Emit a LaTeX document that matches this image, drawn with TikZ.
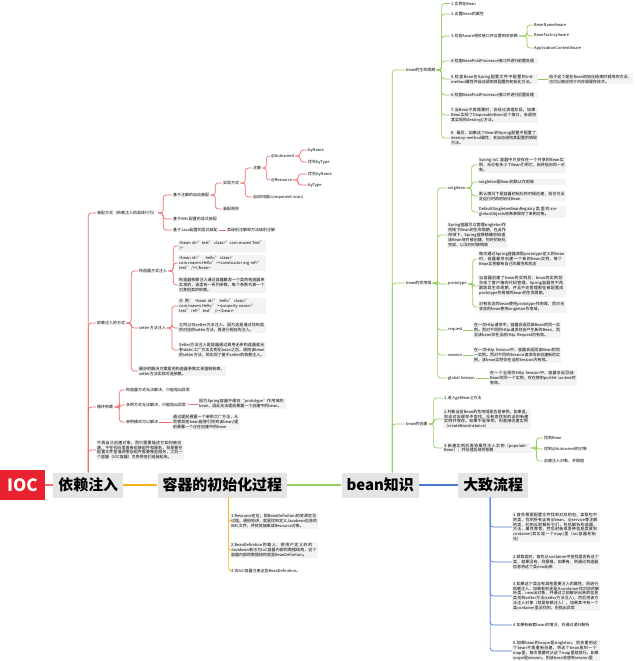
\documentclass[tikz,border=0pt]{standalone}
\usepackage{fontspec}
\setmainfont{Noto Sans CJK SC}
\usetikzlibrary{positioning}
\XeTeXlinebreaklocale "zh"
\XeTeXlinebreakskip=0pt plus 1pt

\definecolor{iocred}{HTML}{E8222E}
\definecolor{branchred}{HTML}{F26A6A}
\definecolor{branchorange}{HTML}{F5B31C}
\definecolor{branchgreen}{HTML}{92CB5E}
\definecolor{branchblue}{HTML}{4A7BD0}
\definecolor{topicgray}{HTML}{E4E4E4}
\definecolor{notegray}{HTML}{F3F3F3}

\begin{document}
\begin{tikzpicture}[x=1bp,y=-1bp,
  topic/.style={fill=topicgray,font=\fontsize{15}{18}\selectfont\bfseries,inner xsep=5bp,inner ysep=0bp,minimum height=25bp},
  sub/.style={anchor=west,font=\fontsize{4}{5}\selectfont,inner sep=1bp},
  note/.style={sub,fill=notegray,align=left,text width=#1},
  note/.default=86bp,
  redline/.style={draw=branchred,line width=0.7bp,rounded corners=3bp},
  orangeline/.style={draw=branchorange,line width=0.7bp,rounded corners=3bp},
  greenline/.style={draw=branchgreen,line width=0.7bp,rounded corners=3bp},
  blueline/.style={draw=branchblue,line width=0.7bp,rounded corners=3bp}]
\useasboundingbox (0,0) rectangle (636,661);
\clip (0,0) rectangle (636,661);

% main row
\node[fill=iocred,text=white,font=\fontsize{17}{20}\selectfont\bfseries,minimum width=45bp,minimum height=30bp] (ioc) at (22.5,485) {IOC};
\node[topic,right=8bp of ioc] (dep) {依赖注入};
\node[topic,right=34bp of dep] (init) {容器的初始化过程};
\node[topic,right=54bp of init] (bk) {bean知识};
\node[topic,right=39bp of bk] (flow) {大致流程};

\draw[redline,line width=1.2bp] (ioc) -- (dep);
\draw[orangeline,line width=1.2bp] (dep) -- (init);
\draw[greenline,line width=1.2bp] (init) -- (bk);
\draw[blueline,line width=1.2bp] (bk) -- (flow);

% ---- 依赖注入
\node[sub] (wire) at (96,213) {装配方式（依赖注入的具体行为）};
\node[sub] (annot) at (172,195) {基于注解的自动装配};
\node[sub] (impl) at (222,183) {实现方式};
\node[sub] (anno) at (252,168) {注解};
\node[sub] (autow) at (270,156) {@Autowired};
\node[sub] (aname) at (307,150) {byName};
\node[sub] (atype) at (307,162) {优先byType};
\node[sub] (resrc) at (270,180) {@Resource};
\node[sub] (rname) at (307,174) {优先byName};
\node[sub] (rtype) at (307,185) {byType};
\node[sub] (scan) at (252,197) {自动扫描(component-scan)};
\node[sub] (rule) at (222,209) {装配原则};
\node[sub] (xmlw) at (172,219) {基于XML配置的显式装配};
\node[sub] (javaw) at (172,230) {基于Java配置的显式装配};
\node[sub] (javan) at (226,230) {类级别注解和方法级别注解};

\node[sub] (way) at (96,323) {依赖注入的方式};
\node[sub] (ctor) at (138,271) {构造器方式注入};
\node[note] (ctor1) at (178,246) {<bean id="test" class="com.maven.Test" />};
\node[note] (ctor2) at (178,263) {<bean id="hello" class="com.maven.Hello"><constructor-arg ref="test" /></bean>};
\node[note] (ctor3) at (178,285) {构造器依赖注入通过容器触发一个类的构造器来实现的，该类有一系列参数，每个参数代表一个对其他类的依赖。};
\node[sub] (setr) at (138,328) {setter方法注入};
\node[note] (setr1) at (178,306) {示例：<bean id="hello" class="com.maven.Hello"><property name="test" ref="test" /></bean>};
\node[note] (setr2) at (178,328) {之所以叫setter方法注入，因为这是通过找到类的对应的setter方法，再进行相应的注入。};
\node[note] (setr3) at (178,350) {Setter方法注入是容器通过调用无参构造器或无参static工厂方法实例化bean之后，调用该bean的setter方法，即实现了基于setter的依赖注入。};
\node[note] (best) at (138,371) {最好的解决方案是用构造器参数实现强制依赖，setter方法实现可选依赖。};

\node[sub] (cyc) at (96,407) {循环依赖};
\node[sub] (cyc1) at (125,390) {构造器方式无法解决，只能抛出异常};
\node[sub] (cyc2) at (125,405) {多例方式无法解决，只能抛出异常};
\node[note] (cyc2n) at (198,404) {因为Spring容器不缓存“prototype”作用域的bean，因此无法提前暴露一个创建中的bean。};
\node[sub] (cyc3) at (125,422) {单例模式可以解决};
\node[note=66bp] (cyc3n) at (172,422) {通过提前暴露一个单例工厂方法，从而使其他bean能够引用到该bean/提前暴露一个正在创建中的bean};
\node[note] (idea) at (96,450) {不再自己创建对象，而只需要描述它如何被创建，不在代码里直接组装组件和服务，但是要在配置文件里描述哪些组件需要哪些服务，之后一个容器（IOC容器）负责把他们组装起来。};

\draw[redline] (dep.north) |- (wire.west);
\draw[redline] (dep.north) |- (way.west);
\draw[redline] (dep.north) |- (cyc.west);
\draw[redline] (dep.north) |- (idea.west);
\draw[redline] (wire.east) -- ++(5,0) |- (annot.west);
\draw[redline] (wire.east) -- ++(5,0) |- (xmlw.west);
\draw[redline] (wire.east) -- ++(5,0) |- (javaw.west);
\draw[redline] (annot.east) -- ++(5,0) |- (impl.west);
\draw[redline] (annot.east) -- ++(5,0) |- (rule.west);
\draw[redline] (impl.east) -- ++(5,0) |- (anno.west);
\draw[redline] (impl.east) -- ++(5,0) |- (scan.west);
\draw[redline] (anno.east) -- ++(4,0) |- (autow.west);
\draw[redline] (anno.east) -- ++(4,0) |- (resrc.west);
\draw[redline] (autow.east) -- ++(5,0) |- (aname.west);
\draw[redline] (autow.east) -- ++(5,0) |- (atype.west);
\draw[redline] (resrc.east) -- ++(5,0) |- (rname.west);
\draw[redline] (resrc.east) -- ++(5,0) |- (rtype.west);
\draw[redline] (javaw) -- (javan);
\draw[redline] (way.east) -- ++(5,0) |- (ctor.west);
\draw[redline] (way.east) -- ++(5,0) |- (setr.west);
\draw[redline] (way.east) -- ++(5,0) |- (best.west);
\draw[redline] (ctor.east) -- ++(5,0) |- (ctor1.west);
\draw[redline] (ctor.east) -- ++(5,0) |- (ctor2.west);
\draw[redline] (ctor.east) -- ++(5,0) |- (ctor3.west);
\draw[redline] (setr.east) -- ++(5,0) |- (setr1.west);
\draw[redline] (setr.east) -- ++(5,0) |- (setr2.west);
\draw[redline] (setr.east) -- ++(5,0) |- (setr3.west);
\draw[redline] (cyc.east) -- ++(5,0) |- (cyc1.west);
\draw[redline] (cyc.east) -- ++(5,0) |- (cyc2.west);
\draw[redline] (cyc.east) -- ++(5,0) |- (cyc3.west);
\draw[redline] (cyc2) -- (cyc2n);
\draw[redline] (cyc3) -- (cyc3n);

% ---- 容器的初始化过程
\node[note] (res) at (230,521) {1.Resource定位，即BeanDefinition的资源定位过程。通俗地讲，就是找到定义Javabean信息的XML文件，并将其抽象成Resource对象。};
\node[note] (load) at (230,550) {2.BeanDefinition的载入，把用户定义好的Javabean表示为IoC容器内部的数据结构，这个容器内部的数据结构就是BeanDefinition。};
\node[sub] (reg) at (230,571) {3.向IoC容器注册这些BeanDefinition。};

\draw[orangeline] ([xshift=6bp]init.south) |- (res.west);
\draw[orangeline] ([xshift=6bp]init.south) |- (load.west);
\draw[orangeline] ([xshift=6bp]init.south) |- (reg.west);

% ---- bean知识
\node[sub] (life) at (405,70) {bean的生命周期};
\node[sub] (l1) at (450,3.5) {1.实例化Bean};
\node[sub] (l2) at (450,14) {2.设置Bean的属性};
\node[sub] (l3) at (450,36) {3.检查Aware相关接口并设置相关依赖};
\node[sub] (aw1) at (533,25) {BeanNameAware};
\node[sub] (aw2) at (533,36) {BeanFactoryAware};
\node[sub] (aw3) at (533,48) {ApplicationContextAware};
\node[note] (l4) at (450,61) {4.检查BeanPostProcessor接口并进行前置处理};
\node[note] (l5) at (450,79) {5.检查Bean在Spring配置文件中配置的init-method属性并自动调用其配置的初始化方法。};
\node[note=83bp] (l5n) at (548,79) {由于这个是在Bean初始化结束时调用的方法，也可以被应用于内存或缓存技术。};
\node[note] (l6) at (450,95) {6.检查BeanPostProcessor接口并进行后置处理};
\node[note] (l7) at (450,115) {7.当Bean不再需要时，会经过清理阶段，如果Bean实现了DisposableBean这个接口，会调用其实现的destroy()方法。};
\node[note] (l8) at (450,138) {8. 最后，如果这个Bean的Spring配置中配置了destroy-method属性，会自动调用其配置的销毁方法。};

\node[sub] (scope) at (405,283) {bean的作用域};
\node[sub] (sgl) at (447,188) {singleton};
\node[note] (sgl1) at (478,165) {Spring IoC 容器中只会存在一个共享的Bean实例，无论有多少个Bean引用它，始终指向同一对象。};
\node[note] (sgl2) at (478,182) {singleton是Bean的默认作用域};
\node[note] (sgl3) at (478,196) {默认情况下是容器初始化的时候创建，但也可设定运行时再初始化Bean};
\node[note] (sgl4) at (478,212) {DefaultSingletonBeanRegistry类里的singletonObjects哈希表保存了单例对象。};
\node[note=58bp] (sglm) at (447,235) {Spring容器可以管理singleton作用域下Bean的生命周期，在此作用域下，Spring能够精确地知道该Bean何时被创建，何时初始化完成，以及何时被销毁};
\node[sub] (proto) at (447,284) {prototype};
\node[note] (pro1) at (478,259) {每次通过Spring容器获取prototype定义的bean时，容器都将创建一个新的Bean实例，每个Bean实例都有自己的属性和状态};
\node[note] (pro2) at (478,286) {当容器创建了bean的实例后，bean的实例就交给了客户端的代码管理，Spring容器将不再跟踪其生命周期，并且不会管理那些被配置成prototype作用域的bean的生命周期。};
\node[note] (pro3) at (478,307) {对有状态的bean使用prototype作用域，而对无状态的bean使用singleton作用域。};
\node[sub] (req) at (447,330) {request};
\node[note] (reqn) at (473,330) {在一次Http请求中，容器会返回该Bean的同一实例。而对不同的Http请求则会产生新的Bean，而且该bean仅在当前Http Request内有效。};
\node[sub] (sess) at (447,355) {session};
\node[note] (sessn) at (473,355) {在一次Http Session中，容器会返回该Bean的同一实例。而对不同的Session请求则会创建新的实例，该bean实例仅在当前Session内有效。};
\node[sub] (gsess) at (447,378) {global Session};
\node[note] (gsessn) at (489,378) {在一个全局的Http Session中，容器会返回该Bean的同一个实例，仅在使用portlet context时有效。};

\node[sub] (make) at (405,424) {bean的创建};
\node[sub] (mk1) at (443,398) {1.进入getBean()方法};
\node[note] (mk2) at (443,419) {2.判断当前Bean的作用域是否是单例，如果是，则去对应缓存中查找，没有查找到的话则新建实例并保存。如果不是单例，则直接创建实例（createBeanInstance）};
\node[note] (mk3) at (443,448) {3.新建实例后再将属性注入实例（populateBean），并处理后续的依赖};
\node[sub] (mk3a) at (543,438) {找到Bean};
\node[sub] (mk3b) at (543,449) {找到@Autowired的对象};
\node[sub] (mk3c) at (543,461) {创建注入对象，并赋值};

\draw[greenline] ([xshift=12bp]bk.north) |- (life.west);
\draw[greenline] ([xshift=12bp]bk.north) |- (scope.west);
\draw[greenline] ([xshift=12bp]bk.north) |- (make.west);
\draw[greenline] (life.east) -- ++(5,0) |- (l1.west);
\draw[greenline] (life.east) -- ++(5,0) |- (l2.west);
\draw[greenline] (life.east) -- ++(5,0) |- (l3.west);
\draw[greenline] (life.east) -- ++(5,0) |- (l4.west);
\draw[greenline] (life.east) -- ++(5,0) |- (l5.west);
\draw[greenline] (life.east) -- ++(5,0) |- (l6.west);
\draw[greenline] (life.east) -- ++(5,0) |- (l7.west);
\draw[greenline] (life.east) -- ++(5,0) |- (l8.west);
\draw[greenline] (l3.east) -- ++(8,0) |- (aw1.west);
\draw[greenline] (l3.east) -- ++(8,0) |- (aw2.west);
\draw[greenline] (l3.east) -- ++(8,0) |- (aw3.west);
\draw[greenline] (l5) -- (l5n);
\draw[greenline] (scope.east) -- ++(5,0) |- (sgl.west);
\draw[greenline] (scope.east) -- ++(5,0) |- (sglm.west);
\draw[greenline] (scope.east) -- ++(5,0) |- (proto.west);
\draw[greenline] (scope.east) -- ++(5,0) |- (req.west);
\draw[greenline] (scope.east) -- ++(5,0) |- (sess.west);
\draw[greenline] (scope.east) -- ++(5,0) |- (gsess.west);
\draw[greenline] (sgl.east) -- ++(5,0) |- (sgl1.west);
\draw[greenline] (sgl.east) -- ++(5,0) |- (sgl2.west);
\draw[greenline] (sgl.east) -- ++(5,0) |- (sgl3.west);
\draw[greenline] (sgl.east) -- ++(5,0) |- (sgl4.west);
\draw[greenline] (proto.east) -- ++(5,0) |- (pro1.west);
\draw[greenline] (proto.east) -- ++(5,0) |- (pro2.west);
\draw[greenline] (proto.east) -- ++(5,0) |- (pro3.west);
\draw[greenline] (req) -- (reqn);
\draw[greenline] (sess) -- (sessn);
\draw[greenline] (gsess) -- (gsessn);
\draw[greenline] (make.east) -- ++(5,0) |- (mk1.west);
\draw[greenline] (make.east) -- ++(5,0) |- (mk2.west);
\draw[greenline] (make.east) -- ++(5,0) |- (mk3.west);
\draw[greenline] (mk3.east) -- ++(5,0) |- (mk3a.west);
\draw[greenline] (mk3.east) -- ++(5,0) |- (mk3b.west);
\draw[greenline] (mk3.east) -- ++(5,0) |- (mk3c.west);

% ---- 大致流程
\node[note] (f1) at (512,527) {1.首先根据配置文件找到对应的包，读取包中的类，找到所有含有@bean，@service等注解的类，利用反射解析它们，包括解析构造器，方法，属性等等，然后封装成各种信息类放到container(其实是一个map)里（ioc容器初始化）};
\node[note] (f2) at (512,562) {2.获取类时，首先从container中查找是否有这个类，如果没有，则报错，如果有，则通过构造器信息将这个类new出来};
\node[note] (f3) at (512,596) {3.如果这个类含有其他需要注入的属性，则进行依赖注入，如果有则还是从container找对应的解析类，new出对象，并通过之前解析出来的信息类找到setter方法(setter方法注入)，然后用该方法注入对象（就是依赖注入），如果其中有一个类container里没找到，则抛出异常};
\node[sub] (f4) at (512,625) {4.如果有嵌套bean的情况，则通过递归解析};
\node[note] (f5) at (512,651) {5.如果bean的scope是singleton，则会重用这个bean不再重新创建，将这个bean放到一个map里，每次需要时从这个map里取就行。如果scope是session，则该bean会放到session里};

\draw[blueline] ([xshift=-3bp]flow.south) |- (f1.west);
\draw[blueline] ([xshift=-3bp]flow.south) |- (f2.west);
\draw[blueline] ([xshift=-3bp]flow.south) |- (f3.west);
\draw[blueline] ([xshift=-3bp]flow.south) |- (f4.west);
\draw[blueline] ([xshift=-3bp]flow.south) |- (f5.west);
\end{tikzpicture}
\end{document}
